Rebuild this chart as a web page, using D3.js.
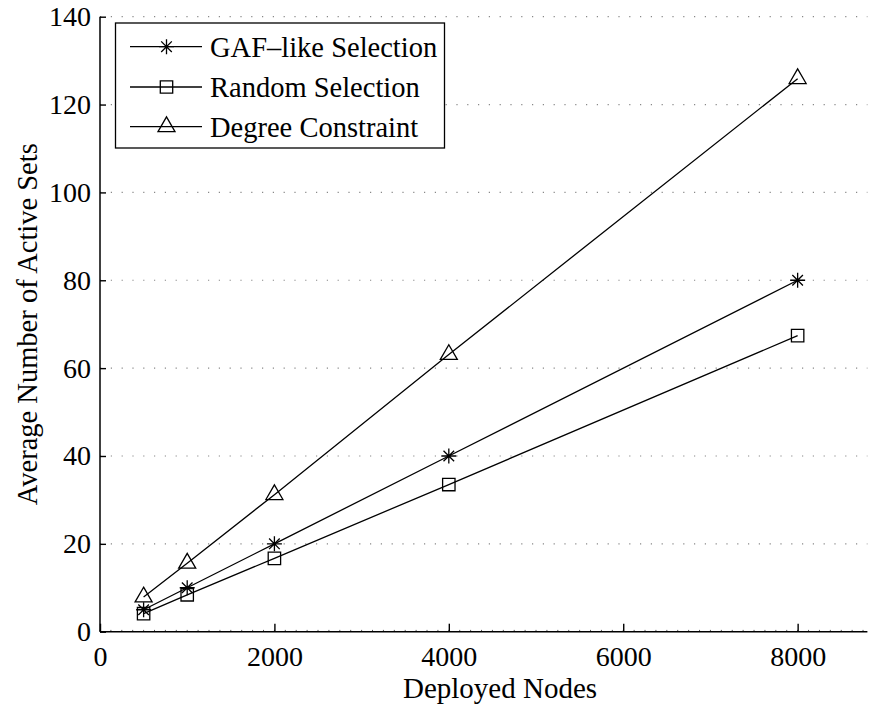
<!DOCTYPE html>
<html>
<head>
<meta charset="utf-8">
<script src="https://cdn.jsdelivr.net/npm/d3@7"></script>
<style>
  html, body { margin: 0; padding: 0; background: #fff; }
  svg { display: block; }
  text { font-family: "Liberation Serif", "Times New Roman", serif; fill: #000; }
</style>
</head>
<body>
<svg id="chart" width="875" height="706"></svg>
<script>
// Deployed node counts (x) and the average number of active sets per method
const nodes = [500, 1000, 2000, 4000, 8000];
const gafLike = [5, 10, 20, 40, 80];
const randomSel = [4.1, 8.4, 16.7, 33.5, 67.4];
const degreeCon = [7.9, 15.6, 31.2, 63.1, 125.9];

const seriesNames = ["GAF\u2013like Selection", "Random Selection", "Degree Constraint"];
const seriesMarkers = ["star", "square", "triangle"];

const xTicks = [0, 2000, 4000, 6000, 8000];
const yTicks = [0, 20, 40, 60, 80, 100, 120, 140];

const xLabel = "Deployed Nodes";
const yLabel = "Average Number of Active Sets";

const svg = d3.select("#chart");
const plot = { left: 100, right: 867.4, top: 16.7, bottom: 631.7 };

const x = d3.scaleLinear().domain([0, 8800]).range([plot.left, plot.right]);
const y = d3.scaleLinear().domain([0, 140]).range([plot.bottom, plot.top]);

// horizontal dotted grid lines
svg.append("g")
  .selectAll("line")
  .data(yTicks.filter(v => v > 0))
  .join("line")
  .attr("x1", plot.left).attr("x2", plot.right)
  .attr("y1", d => y(d)).attr("y2", d => y(d))
  .attr("stroke", "#888").attr("stroke-width", 1.2)
  .attr("stroke-dasharray", "1.2,9.6");

// minor ticks along the x axis
const minor = d3.range(0, 8800 + 1, 125);
svg.append("g")
  .selectAll("line")
  .data(minor)
  .join("line")
  .attr("x1", d => x(d)).attr("x2", d => x(d))
  .attr("y1", plot.bottom).attr("y2", plot.bottom - 1.8)
  .attr("stroke", "#555").attr("stroke-width", 1);

// x axis (ticks pointing inward)
const xAxis = d3.axisBottom(x).tickValues(xTicks).tickSize(-8).tickPadding(14)
  .tickFormat(d3.format("d"));
const gx = svg.append("g")
  .attr("transform", `translate(0,${plot.bottom})`)
  .call(xAxis);
gx.select(".domain").remove();
gx.selectAll(".tick line").attr("stroke", "#000").attr("stroke-width", 1.4);
gx.selectAll(".tick text")
  .attr("font-size", 28).attr("font-family", "Liberation Serif, serif")
  .attr("dy", "0.71em").attr("y", 14);

// y axis (ticks pointing inward)
const yAxis = d3.axisLeft(y).tickValues(yTicks).tickSize(-6).tickPadding(9);
const gy = svg.append("g")
  .attr("transform", `translate(${plot.left},0)`)
  .call(yAxis);
gy.select(".domain").remove();
gy.selectAll(".tick line").attr("stroke", "#000").attr("stroke-width", 1.4);
gy.selectAll(".tick text")
  .attr("font-size", 28).attr("font-family", "Liberation Serif, serif")
  .attr("x", -9);

// axis lines: left and bottom only
svg.append("line")
  .attr("x1", plot.left).attr("x2", plot.left)
  .attr("y1", plot.top).attr("y2", plot.bottom)
  .attr("stroke", "#000").attr("stroke-width", 1.5);
svg.append("line")
  .attr("x1", plot.left).attr("x2", plot.right)
  .attr("y1", plot.bottom).attr("y2", plot.bottom)
  .attr("stroke", "#000").attr("stroke-width", 1.5);

// marker shapes
function markerPath(kind) {
  if (kind === "star") {
    const r = 7.5, d = 5.3;
    return `M${-r},0L${r},0M0,${-r}L0,${r}M${-d},${-d}L${d},${d}M${-d},${d}L${d},${-d}`;
  }
  if (kind === "square") {
    const h = 6.2;
    return `M${-h},${-h}L${h},${-h}L${h},${h}L${-h},${h}Z`;
  }
  // triangle centred on its centroid
  const w = 8.5, hgt = 14.7;
  return `M0,${-hgt * 2 / 3}L${w},${hgt / 3}L${-w},${hgt / 3}Z`;
}

const series = [gafLike, randomSel, degreeCon].map((vals, i) => ({
  name: seriesNames[i],
  marker: seriesMarkers[i],
  points: nodes.map((n, j) => ({ x: n, y: vals[j] }))
}));

const line = d3.line().x(d => x(d.x)).y(d => y(d.y));

const gs = svg.append("g").selectAll("g").data(series).join("g");
gs.append("path")
  .attr("d", d => line(d.points))
  .attr("fill", "none").attr("stroke", "#000").attr("stroke-width", 1.3);
gs.each(function (s) {
  d3.select(this).selectAll("path.mk")
    .data(s.points)
    .join("path")
    .attr("class", "mk")
    .attr("transform", d => `translate(${x(d.x)},${y(d.y)})`)
    .attr("d", markerPath(s.marker))
    .attr("fill", "none").attr("stroke", "#000").attr("stroke-width", 1.3);
});

// legend
const legend = svg.append("g");
legend.append("rect")
  .attr("x", 115.5).attr("y", 23).attr("width", 329).attr("height", 125)
  .attr("fill", "#fff").attr("stroke", "#000").attr("stroke-width", 1.3);
const rowY = [46.7, 87, 126.7];
series.forEach((s, i) => {
  const g = legend.append("g").attr("transform", `translate(0,${rowY[i]})`);
  g.append("line").attr("x1", 130).attr("x2", 202).attr("y1", 0).attr("y2", 0)
    .attr("stroke", "#000").attr("stroke-width", 1.3);
  g.append("path").attr("transform", "translate(166.5,0)")
    .attr("d", markerPath(s.marker))
    .attr("fill", "none").attr("stroke", "#000").attr("stroke-width", 1.3);
  g.append("text").attr("x", 210).attr("y", 0).attr("dy", "0.35em")
    .attr("font-size", 28.5).text(s.name);
});

// axis titles
svg.append("text")
  .attr("x", 500).attr("y", 698)
  .attr("text-anchor", "middle").attr("font-size", 29).text(xLabel);
svg.append("text")
  .attr("transform", `translate(37,${(plot.top + plot.bottom) / 2}) rotate(-90)`)
  .attr("text-anchor", "middle").attr("font-size", 28.5).text(yLabel);
</script>
</body>
</html>
